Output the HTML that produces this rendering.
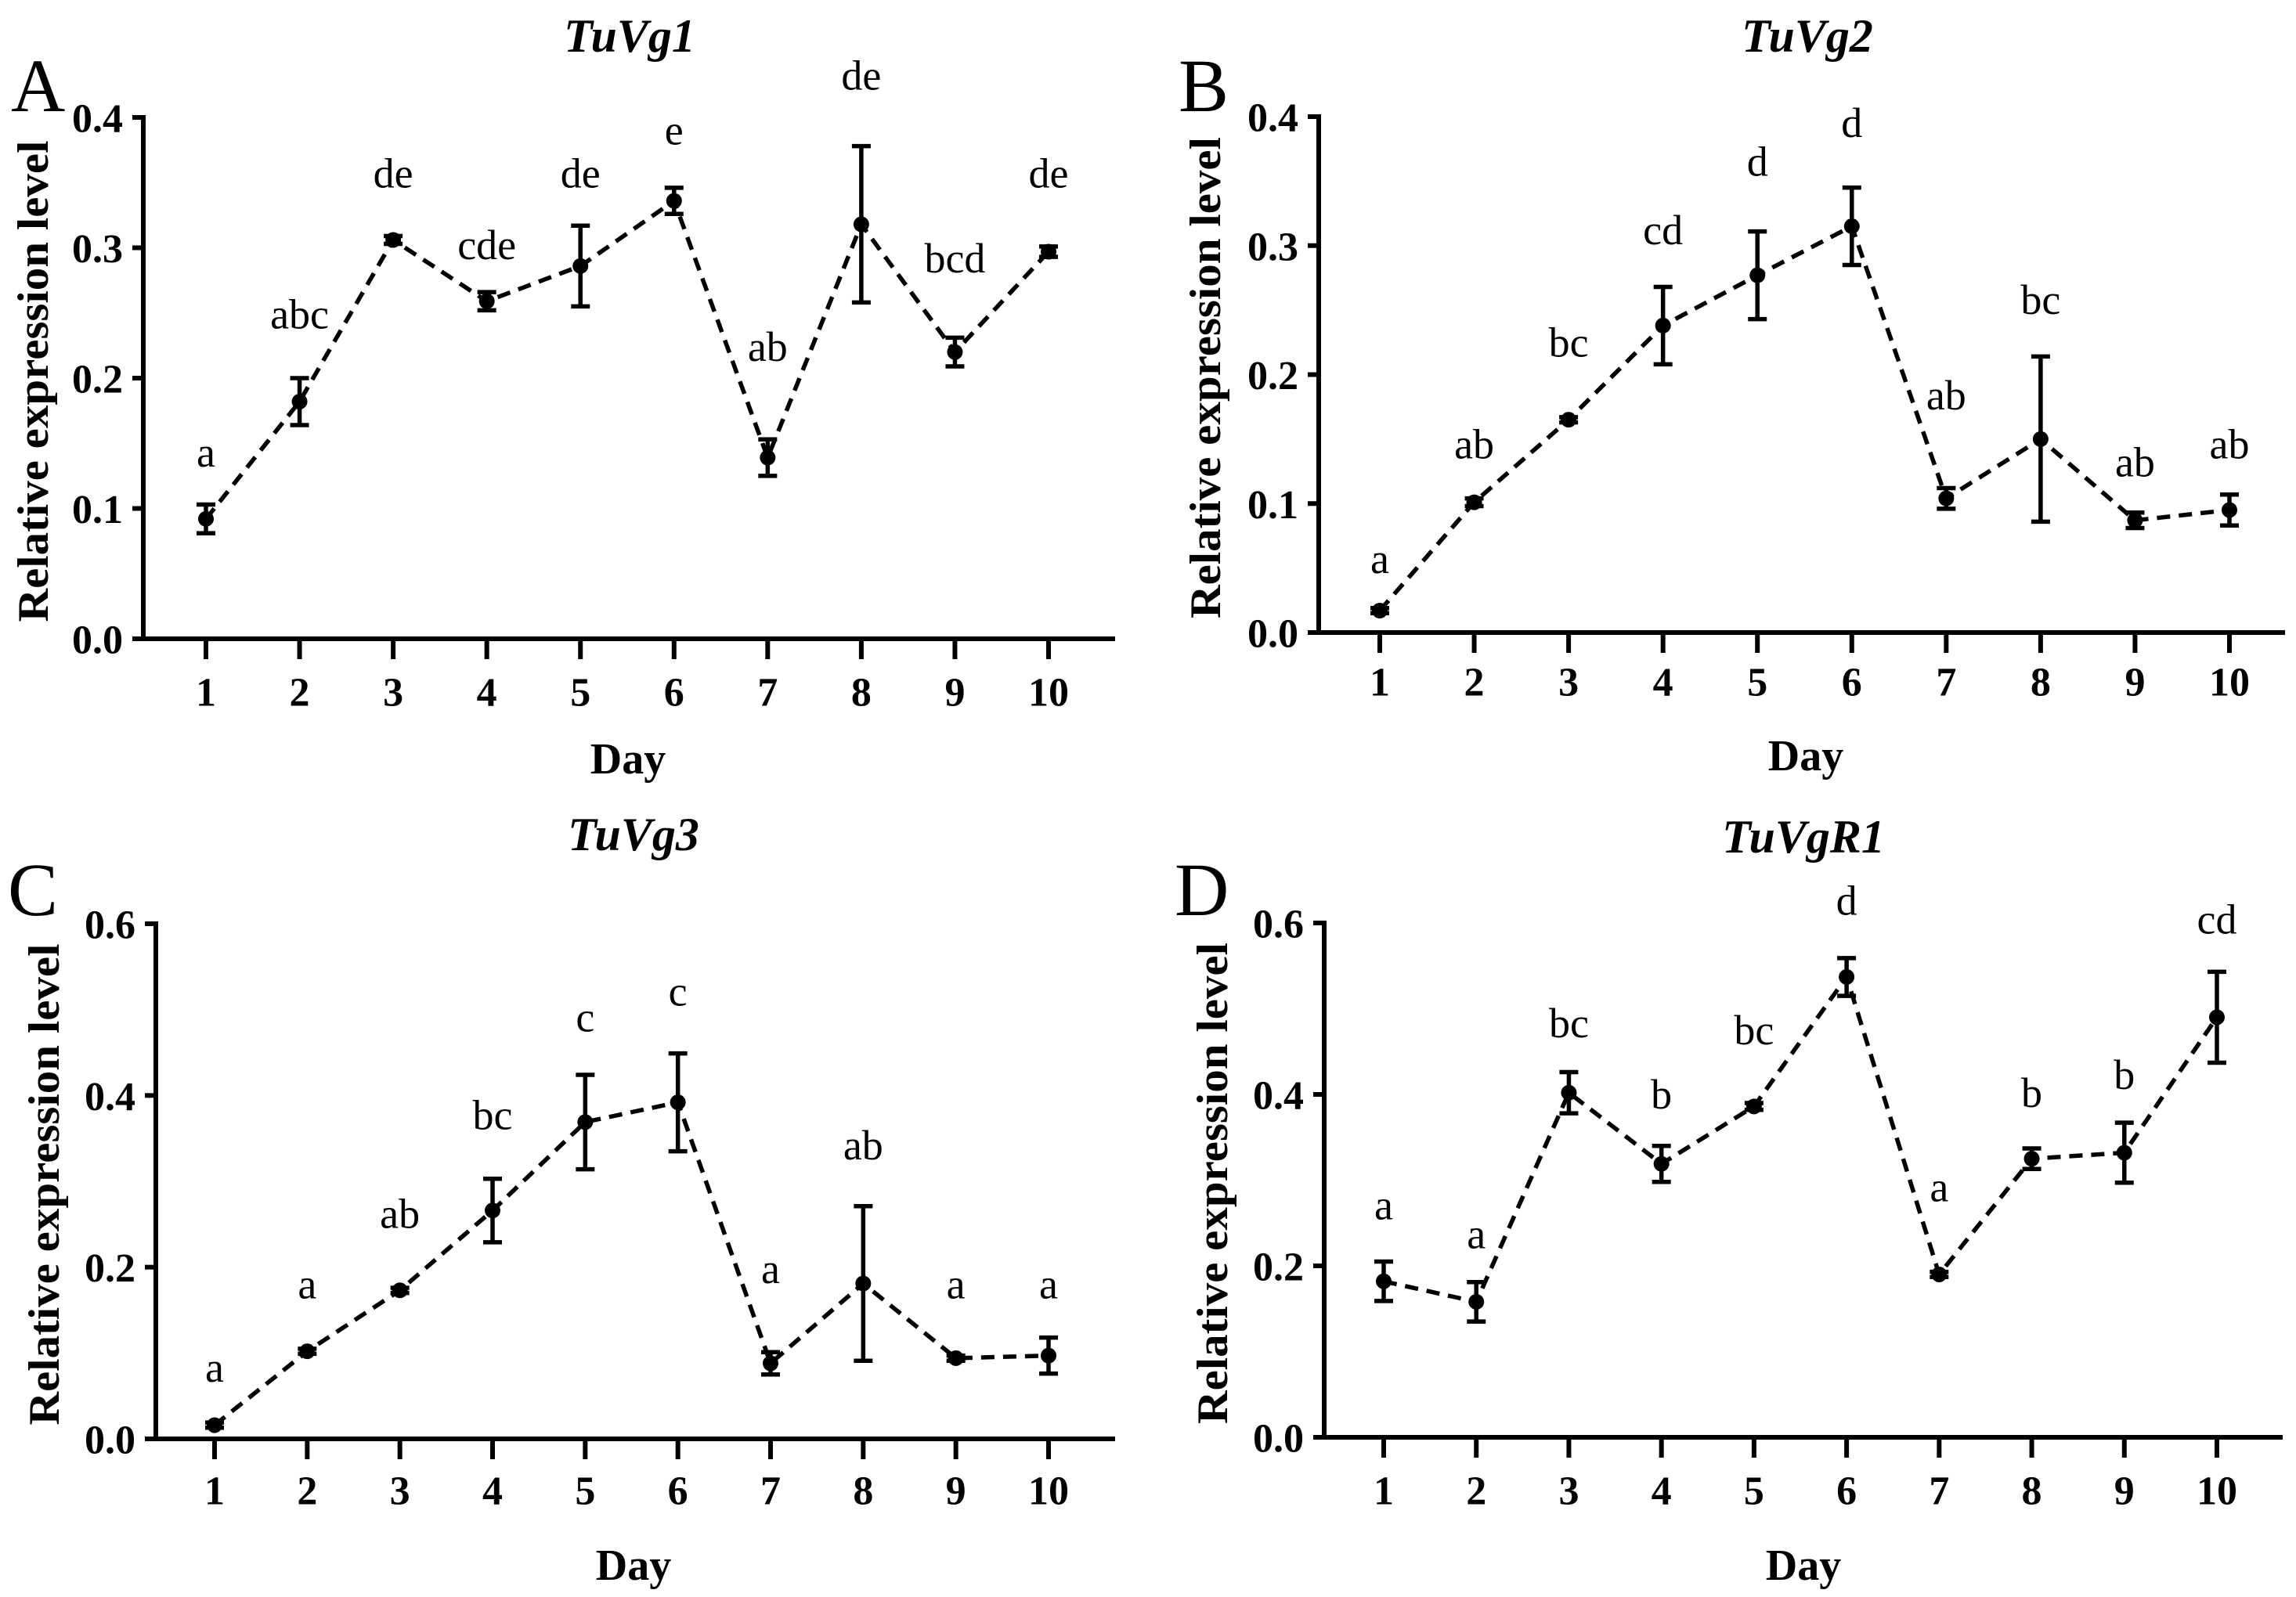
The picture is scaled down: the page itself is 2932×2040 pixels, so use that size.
<!DOCTYPE html>
<html><head><meta charset="utf-8"><style>
html,body{margin:0;padding:0;background:#fff}
svg{display:block}
text{font-family:"Liberation Serif",serif;fill:#000}
</style></head><body>
<svg id="fig" width="2932" height="2040" viewBox="0 0 2932 2040"></svg>
<script>
const days = [1,2,3,4,5,6,7,8,9,10];
const yTicksSmall = [0,0.1,0.2,0.3,0.4];
const yTicksLarge = [0,0.2,0.4,0.6];
const meansA = [0.092,0.182,0.306,0.259,0.286,0.336,0.139,0.318,0.220,0.297];
const errA   = [0.011,0.018,0.003,0.007,0.031,0.010,0.014,0.060,0.011,0.004];
const lettersA = ["a","abc","de","cde","de","e","ab","de","bcd","de"];
const letterPosA = [0.143,0.249,0.357,0.302,0.357,0.390,0.224,0.432,0.292,0.357];
const meansB = [0.017,0.101,0.165,0.238,0.277,0.315,0.104,0.150,0.087,0.095];
const errB   = [0.002,0.003,0.002,0.030,0.034,0.030,0.008,0.064,0.006,0.012];
const lettersB = ["a","ab","bc","cd","d","d","ab","bc","ab","ab"];
const letterPosB = [0.057,0.146,0.225,0.312,0.365,0.395,0.184,0.258,0.132,0.146];
const meansC = [0.016,0.102,0.173,0.266,0.369,0.392,0.088,0.181,0.094,0.097];
const errC   = [0.003,0.003,0.003,0.037,0.055,0.057,0.013,0.090,0.003,0.021];
const lettersC = ["a","a","ab","bc","c","c","a","ab","a","a"];
const letterPosC = [0.083,0.180,0.262,0.377,0.491,0.521,0.198,0.342,0.180,0.180];
const meansD = [0.182,0.158,0.402,0.319,0.386,0.537,0.190,0.325,0.332,0.490];
const errD   = [0.023,0.023,0.024,0.021,0.004,0.022,0.003,0.012,0.035,0.053];
const lettersD = ["a","a","bc","b","bc","d","a","b","b","cd"];
const letterPosD = [0.271,0.237,0.483,0.400,0.475,0.626,0.292,0.402,0.423,0.604];

const NS="http://www.w3.org/2000/svg";
const svg=document.getElementById('fig');
function mk(tag,attrs,parent){const e=document.createElementNS(NS,tag);for(const k in attrs)e.setAttribute(k,attrs[k]);(parent||svg).appendChild(e);return e;}

function panel(p){
  const g=mk('g',{});
  
  
  const xS=d=>p.x1+(d-1)*(p.x10-p.x1)/9;
  const yS=v=>p.y0-(v/p.ymax)*(p.y0-p.ytop);
  let t=mk('text',{x:p.lx,y:p.ly,'font-size':96},g);t.textContent=p.id;
  
  
  t=mk('text',{x:p.tx,y:p.ty,'font-size':60,'font-weight':'bold','font-style':'italic','text-anchor':'middle','dominant-baseline':'central'},g);t.textContent=p.title;
  
  
  t=mk('text',{x:0,y:0,'font-size':56,'font-weight':'bold','text-anchor':'middle','dominant-baseline':'central',textLength:615,lengthAdjust:'spacingAndGlyphs',transform:`translate(${p.ylx},${(p.y0+p.ytop)/2+4}) rotate(-90)`},g);
  t.textContent='Relative expression level';
  
  
  t=mk('text',{x:p.dx,y:p.dy,'font-size':56,'font-weight':'bold','text-anchor':'middle','dominant-baseline':'central'},g);t.textContent='Day';
  
  
  let a=mk('line',{x1:p.ax,y1:p.ytop-3,x2:p.ax,y2:p.y0+3,stroke:'#000','stroke-width':6},g);
  
  
  a=mk('line',{x1:p.ax-14,y1:p.y0,x2:p.xend,y2:p.y0,stroke:'#000','stroke-width':6},g);
  
  
  p.yt.forEach(v=>{
    const y=yS(v);
    const l=mk('line',{x1:p.ax-14,y1:y,x2:p.ax,y2:y,stroke:'#000','stroke-width':6},g);
    
    
    const tt=mk('text',{x:p.ax-26,y:y+2,'font-size':52,'font-weight':'bold','text-anchor':'end','dominant-baseline':'central'},g);
    tt.textContent=v.toFixed(1);
    
    
  });
  days.forEach(d=>{
    const x=xS(d);
    const l=mk('line',{x1:x,y1:p.y0,x2:x,y2:p.y0+26,stroke:'#000','stroke-width':6},g);
    
    
    const tt=mk('text',{x:x,y:p.tly,'font-size':52,'font-weight':'bold','text-anchor':'middle','dominant-baseline':'central'},g);
    tt.textContent=String(d);
    
    
  });
  const pts=days.map((d,i)=>xS(d)+','+yS(p.m[i])).join(' ');
  const pl=mk('polyline',{points:pts,fill:'none',stroke:'#000','stroke-width':5.5,'stroke-dasharray':'17 11'},g);
  
  
  days.forEach((d,i)=>{
    const x=xS(d),yt=yS(p.m[i]+p.e[i]),yb=yS(p.m[i]-p.e[i]);
    const eb=mk('path',{d:`M${x},${yt}V${yb}M${x-12},${yt}H${x+12}M${x-12},${yb}H${x+12}`,stroke:'#000','stroke-width':5.5,fill:'none'},g);
    
    
    const c=mk('circle',{cx:x,cy:yS(p.m[i]),r:10,fill:'#000'},g);
    
    
    const lt=mk('text',{x:x,y:yS(p.lp[i]),'font-size':54,'text-anchor':'middle','dominant-baseline':'central'},g);
    lt.textContent=p.lt[i];
    
    
  });
}

panel({id:'A',title:'TuVg1',ax:183,y0:816,ytop:150,ymax:0.4,x1:263,x10:1339,xend:1424,yt:yTicksSmall,
  m:meansA,e:errA,lt:lettersA,lp:letterPosA,lx:14,ly:142,tx:804,ty:46,ylx:43,dx:802,dy:970,tly:885});
panel({id:'B',title:'TuVg2',ax:1684,y0:808,ytop:149,ymax:0.4,x1:1762,x10:2847,xend:2918,yt:yTicksSmall,
  m:meansB,e:errB,lt:lettersB,lp:letterPosB,lx:1505,ly:142,tx:2308,ty:46,ylx:1540,dx:2306,dy:966,tly:872});
panel({id:'C',title:'TuVg3',ax:199,y0:1838,ytop:1180,ymax:0.6,x1:274,x10:1339,xend:1424,yt:yTicksLarge,
  m:meansC,e:errC,lt:lettersC,lp:letterPosC,lx:10,ly:1169,tx:809,ty:1066,ylx:57,dx:809,dy:2000,tly:1905});
panel({id:'D',title:'TuVgR1',ax:1691,y0:1836,ytop:1179,ymax:0.6,x1:1767,x10:2831,xend:2915,yt:yTicksLarge,
  m:meansD,e:errD,lt:lettersD,lp:letterPosD,lx:1500,ly:1169,tx:2303,ty:1069,ylx:1549,dx:2303,dy:2000,tly:1905});
</script>
</body></html>
